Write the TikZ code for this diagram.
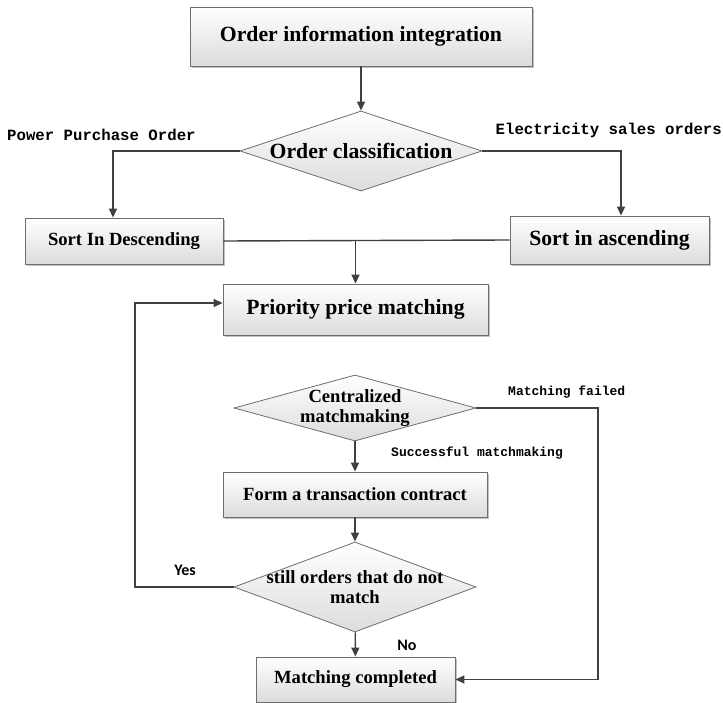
\documentclass[tikz,border=0pt]{standalone}
\usepackage{fontspec}
\setmainfont{Liberation Serif}
\newfontfamily\monofnt{Liberation Mono}
\newfontfamily\calfnt{Carlito}
\usetikzlibrary{arrows.meta,shapes.geometric,shadows}
\definecolor{cLine}{HTML}{404040}
\definecolor{cEdge}{HTML}{6E6E6E}
\definecolor{cFill}{HTML}{DCDCDC}
\tikzset{
  blk/.style={draw=cEdge, line width=0.8pt, align=center, inner sep=2pt,
              top color=white, bottom color=cFill, text=black},
  procbox/.style={blk, rectangle,
              drop shadow={shadow xshift=1.6pt, shadow yshift=-1.6pt,
                           fill=gray!70, opacity=0.7}},
  decide/.style={blk, diamond, inner xsep=-90pt, inner ysep=-30pt},
  txtL/.style={font=\bfseries\fontsize{21.7}{24}\selectfont},
  txtM/.style={font=\bfseries\fontsize{18.6}{19.5}\selectfont},
  ar/.style={-{Triangle[length=9pt,width=8pt]}, line width=1.4pt, cLine},
  ln/.style={line width=1.4pt, cLine},
  lbl/.style={font=\monofnt\bfseries\fontsize{15.7}{18}\selectfont, inner sep=0pt},
  slbl/.style={font=\monofnt\bfseries\fontsize{13}{15}\selectfont, inner sep=0pt},
  yn/.style={font=\calfnt\bfseries\fontsize{16}{18}\selectfont, inner sep=0pt},
}

\begin{document}
\begin{tikzpicture}[x=1pt,y=-1pt]
  \useasboundingbox (0,0) rectangle (723,703);
  % boxes and decisions
  \node[procbox, txtL, minimum width=342pt, minimum height=59pt] (integ) at (361,36.5)
    {Order information integration};
  \node[decide, txtL, minimum width=242pt, minimum height=80pt] (classif) at (361,151)
    {Order classification};
  \node[procbox, txtM, minimum width=198pt, minimum height=46pt] (sortD) at (124,241)
    {Sort In Descending};
  \node[procbox, txtL, minimum width=199pt, minimum height=48pt] (sortA) at (609.5,240)
    {Sort in ascending};
  \node[procbox, txtL, minimum width=265pt, minimum height=51pt] (prio) at (355.5,309.5)
    {Priority price matching};
  \node[decide, txtM, minimum width=242pt, minimum height=66pt] (central) at (355,408)
    {Centralized\\matchmaking};
  \node[procbox, txtM, minimum width=264pt, minimum height=45pt] (contract) at (355,494.5)
    {Form a transaction contract};
  \node[decide, txtM, minimum width=242pt, minimum height=90pt] (still) at (355,587)
    {still orders that do not\\match};
  \node[procbox, txtM, minimum width=199pt, minimum height=45pt] (done) at (355.5,679.5)
    {Matching completed};
  % labels
  \node[lbl, anchor=west] (lbuy) at (7,135) {Power Purchase Order};
  \node[lbl, anchor=east] (lsell) at (722,130) {Electricity sales orders};
  \node[slbl, anchor=west] (lfail) at (508,392) {Matching failed};
  \node[slbl, anchor=west] (lsucc) at (391,453) {Successful matchmaking};
  \node[yn] (lyes) at (185,570) {Yes};
  \node[yn] (lno) at (407,645) {No};
  \coordinate (failr) at (598,408);
  \coordinate (loopl) at (135,587);
  % connectors
  \draw[ar] (integ) -- (classif.north);
  \draw[ar] (classif.west) -| ([xshift=-11pt]sortD.north);
  \draw[ar] (classif.east) -| ([xshift=11.5pt]sortA.north);
  \draw[ln] (sortD.east) -- (sortA.west);
  \draw[ar] (sortD.east -| prio.north) -- (prio.north);
  \draw[ar] (central) -- (contract);
  \draw[ar] (contract) -- (still);
  \draw[ar] (still) -- (done);
  \draw[ar] (central.east) -- (failr) |- (done.east);
  \draw[ar] (still.west) -- (loopl) |- ([yshift=6.5pt]prio.west);
\end{tikzpicture}
\end{document}
